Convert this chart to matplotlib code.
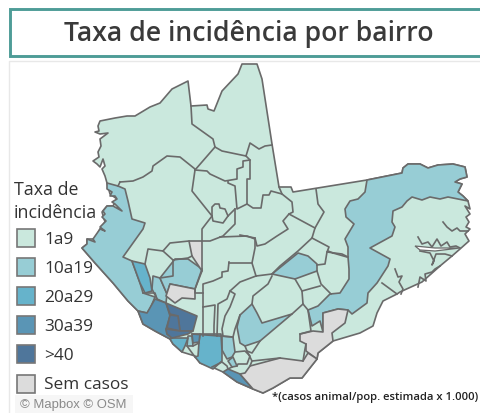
import matplotlib
matplotlib.use("Agg")
import matplotlib.pyplot as plt
from matplotlib.patches import Polygon, Rectangle

TITLE = "Taxa de incidência por bairro"
LEGEND_TITLE = ["Taxa de", "incidência"]
CLASSES = ["1a9", "10a19", "20a29", "30a39", ">40", "Sem casos"]
CLASS_COLORS = ["#CAE8DD", "#97CDD5", "#66B3CB", "#5A95B5", "#4F769B", "#DCDCDC"]
FOOTNOTE = "*(casos animal/pop. estimada x 1.000)"
CREDIT = "© Mapbox © OSM"

OUTLINE = [(100,122),(115,119),(127,117),(135,117),(150,108),(160,104),(172,90),(188,82),(191,107),(207,106),(208,110),(214,112),(222,92),(238,75),(242,65),(257,65),(262,80),(272,145),(279,188),(291,188),(293,193),(367,181),(402,174),(403,169),(408,165),(420,165),(428,169),(438,166),(453,165),(465,168),(467,178),(460,180),(455,183),(462,185),(458,193),(463,197),(468,202),(470,210),(465,207),(470,215),(466,218),(469,223),(466,228),(470,230),(465,235),(469,242),(460,250),(452,257),(440,267),(422,283),(400,293),(397,295),(383,302),(377,314),(373,327),(360,334),(333,342),(318,354),(317,360),(302,379),(290,379),(273,389),(263,394),(253,390),(237,383),(223,373),(212,368),(200,364),(195,357),(182,353),(173,345),(170,340),(155,332),(143,325),(138,312),(128,302),(113,284),(95,264),(82,249),(87,245),(87,240),(95,240),(100,230),(105,223),(102,213),(107,207),(113,207),(117,200),(110,195),(107,184),(105,177),(102,170),(105,167),(103,160),(100,168),(97,165),(93,162),(99,158),(98,153),(101,147),(100,140),(108,134),(100,135),(95,133),(99,132),(98,127)]

# neighbourhoods with a rate class other than the base one
BAIRROS_10A19 = [
    [(107,184),(118,187),(125,190),(128,202),(132,220),(145,224),(143,230),(123,258),(132,262),(140,284),(143,294),(155,298),(150,310),(147,314),(138,312),(128,302),(113,284),(95,264),(82,249),(87,245),(87,240),(95,243),(93,240),(100,230),(105,232),(100,228),(106,222),(102,218),(105,215),(103,212),(107,207),(113,207),(122,212),(115,205),(112,203),(117,200),(115,197),(110,197),(112,193),(107,190)],
    [(153,277),(160,279),(167,295),(166,304),(157,300),(152,290)],
    [(160,279),(175,260),(188,260),(202,270),(195,290),(170,285),(167,295)],
    [(272,275),(298,254),(308,257),(317,265),(317,272),(295,280)],
    [(367,181),(402,174),(403,169),(408,165),(420,165),(428,169),(438,166),(453,165),(465,168),(467,178),(460,180),(455,183),(462,185),(458,193),(463,197),(468,202),(448,198),(440,200),(430,198),(422,201),(412,198),(407,202),(402,208),(393,212),(392,223),(395,228),(392,237),(370,249),(390,260),(388,267),(377,284),(368,294),(367,304),(352,315),(348,311),(338,310),(323,314),(323,333),(320,322),(312,327),(308,311),(318,307),(330,295),(340,294),(349,280),(349,270),(348,258),(348,248),(345,240),(354,225),(346,218),(345,210),(350,202),(358,200),(365,193)],
    [(252,305),(240,316),(237,328),(240,344),(245,347),(260,342),(292,315),(262,324),(257,314)],
    [(222,337),(233,338),(235,353),(232,358),(227,360),(222,351)],
    [(188,337),(192,337),(193,347),(187,347)],
    [(228,362),(233,358),(237,367),(232,368)],
]
BAIRROS_20A29 = [
    [(132,262),(145,265),(150,279),(152,292),(145,294),(140,284)],
    [(172,339),(188,339),(185,347),(182,353),(173,345),(170,340)],
    [(200,335),(221,335),(222,352),(222,362),(213,370),(200,364),(195,358),(198,357),(199,343)],
]
BAIRROS_30A39 = [
    [(138,312),(147,314),(155,300),(166,304),(170,317),(166,330),(167,335),(172,339),(170,340),(155,332),(143,325)],
    [(192,335),(200,335),(199,343),(193,344)],
    [(223,373),(228,370),(240,375),(253,390),(237,383)],
]
BAIRROS_40 = [
    [(166,304),(173,307),(197,317),(193,332),(180,332),(178,317),(170,315)],
    [(170,316),(178,317),(180,332),(167,329)],
    [(166,330),(180,332),(193,332),(188,335),(172,339),(167,335)],
]
BAIRROS_SEM = [
    [(189,242),(202,242),(202,272),(192,257)],
    [(170,285),(195,290),(195,300),(182,299),(175,304),(166,297)],
    [(348,311),(338,310),(323,314),(323,333),(313,332),(300,335),(300,342),(306,345),(306,352),(317,360),(318,354),(333,342),(332,334),(345,324)],
    [(317,360),(308,354),(303,362),(280,359),(250,367),(245,374),(240,375),(253,390),(263,394),(273,389),(290,379),(302,379)],
]
BAIRROS = [[], BAIRROS_10A19, BAIRROS_20A29, BAIRROS_30A39, BAIRROS_40, BAIRROS_SEM]

# limits between neighbourhoods of the base class
LIMITES = [
    [(191,107),(192,125),(213,140),(215,148),(195,171)],
    [(120,183),(133,182),(143,178),(152,172),(153,167),(167,157),(180,158),(195,170)],
    [(118,187),(120,183)],
    [(215,148),(222,152),(246,157),(250,144),(259,150),(265,147),(272,146)],
    [(195,171),(207,172),(210,175),(225,182),(237,180),(237,170),(243,168),(243,162),(250,161),(250,180),(247,180),(247,205)],
    [(246,157),(250,161)],
    [(228,182),(228,184),(235,187),(237,210),(247,205),(253,209),(261,209),(263,196),(269,196),(271,192),(282,195),(292,203),(293,213),(289,215),(283,222),(288,230),(277,237),(265,245),(257,247),(255,239),(240,236)],
    [(279,188),(282,195)],
    [(195,171),(192,192),(212,217),(202,230),(202,242),(210,242),(223,237),(235,225),(235,210)],
    [(212,217),(213,222),(223,224),(228,217),(235,210)],
    [(212,217),(212,208),(215,205),(219,205),(220,209),(225,210),(228,217)],
    [(220,238),(247,237),(255,240)],
    [(289,215),(315,229)],
    [(316,190),(318,205),(324,213),(315,229),(312,239),(298,252),(280,267),(272,275)],
    [(312,239),(329,248),(327,253),(342,255),(348,258)],
    [(327,253),(325,265),(317,266)],
    [(317,272),(321,285),(331,295)],
    [(255,239),(255,249),(252,264),(256,277)],
    [(229,264),(252,264)],
    [(229,263),(228,272),(222,273),(222,278),(213,282),(203,285),(203,337)],
    [(195,290),(195,294),(203,294)],
    [(202,272),(195,290)],
    [(256,277),(272,275)],
    [(272,277),(268,285),(253,297),(252,305)],
    [(256,277),(240,283),(230,292),(227,300),(218,305),(217,337)],
    [(230,292),(235,295),(230,308),(225,317),(222,330),(223,337)],
    [(203,308),(215,306),(214,327),(214,336)],
    [(240,316),(235,330),(233,338)],
    [(192,335),(233,338)],
    [(295,280),(302,292),(303,305),(308,311)],
    [(302,292),(320,287)],
    [(292,315),(303,305)],
    [(306,345),(305,350),(303,362)],
    [(300,335),(311,332),(308,311)],
    [(235,353),(245,352),(250,357),(247,365),(238,365),(237,367)],
    [(245,347),(247,352),(252,362),(250,367)],
    [(260,342),(252,354),(247,352)],
    [(252,362),(280,359)],
    [(228,370),(232,368)],
    [(212,368),(222,363),(227,367),(228,370)],
    [(145,265),(148,250),(163,252),(170,244),(189,242)],
    [(163,252),(173,261),(188,259),(192,257)],
    [(173,261),(173,277),(160,279)],
    [(143,294),(155,294),(157,300)],
    [(193,347),(199,344)],
    [(187,347),(195,358)],
    [(382,284),(397,295)],
    [(333,254),(347,258)],
    [(328,252),(333,254)],
]
ENSEADAS = [
    [(418,238),(422,245),(428,243),(432,248),(437,240),(441,247),(447,243),(450,248),(456,247),(460,249)],
    [(420,252),(430,254),(434,262),(432,266),(436,255),(445,255),(452,257)],
    [(443,223),(447,228),(452,232),(457,229),(460,232),(468,232)],
    [(395,270),(398,278),(402,277),(399,283),(403,290),(401,295)],
    [(418,288),(420,278),(426,282),(425,275),(432,273),(435,270),(440,267)],
]
FENDA = [(415,247),(435,249),(460,249),(435,252),(420,251)]

EDGE = "#6A6A6A"
LW = 1.2

fig = plt.figure(figsize=(4.81, 4.14), dpi=100)
ax = fig.add_axes([0, 0, 1, 1])
ax.set_xlim(0, 481)
ax.set_ylim(414, 0)
ax.axis("off")

# frames
ax.add_patch(Rectangle((10, 10), 480, 46.5, fc="white", ec="#4E9C97", lw=2.1, zorder=1))
ax.plot([9.5, 9.5, 481], [414, 62, 62], color="#E8E8E8", lw=1.0, zorder=1)
ax.text(248.5, 34.5, TITLE, family="Open Sans", weight=600, fontsize=19.2, color="#3A3A3A",
        ha="center", va="center", zorder=5)

# map
ax.add_patch(Polygon(OUTLINE, closed=True, fc=CLASS_COLORS[0], ec=EDGE, lw=LW, joinstyle="round", zorder=2))
for color, polys in zip(CLASS_COLORS, BAIRROS):
    for p in polys:
        ax.add_patch(Polygon(p, closed=True, fc=color, ec=EDGE, lw=LW, joinstyle="round", zorder=3))
for line in LIMITES + ENSEADAS:
    xs, ys = zip(*line)
    ax.plot(xs, ys, color=EDGE, lw=LW, solid_joinstyle="round", zorder=3.5)
ax.add_patch(Polygon(FENDA, closed=True, fc="white", ec=EDGE, lw=0.9, zorder=3.6))

# legend
for i, t in enumerate(LEGEND_TITLE):
    ax.text(14, 190 + i * 23, t, family="Open Sans", fontsize=12.8, color="#333333", va="center", zorder=5)
for i, (name, color) in enumerate(zip(CLASSES, CLASS_COLORS)):
    y = 239 + i * 29.1
    ax.add_patch(Rectangle((17.5, y - 9), 18, 18, fc=color, ec="#777777", lw=1.2, zorder=5))
    ax.text(44, y + 1, name, family="Open Sans", fontsize=12.4, color="#333333", va="center", zorder=5)

# credit and footnote
ax.add_patch(Rectangle((15, 396), 118, 18, fc="#F6F6F6", ec="none", zorder=4))
ax.text(20, 405, CREDIT, family="Liberation Sans", fontsize=9.4, color="#8A8A8A", va="center", zorder=5)
ax.text(478, 398, FOOTNOTE, family="Open Sans", weight=600, fontsize=8.1, color="#222222",
        ha="right", va="center", zorder=5)

fig.savefig("out.png", dpi=100)
